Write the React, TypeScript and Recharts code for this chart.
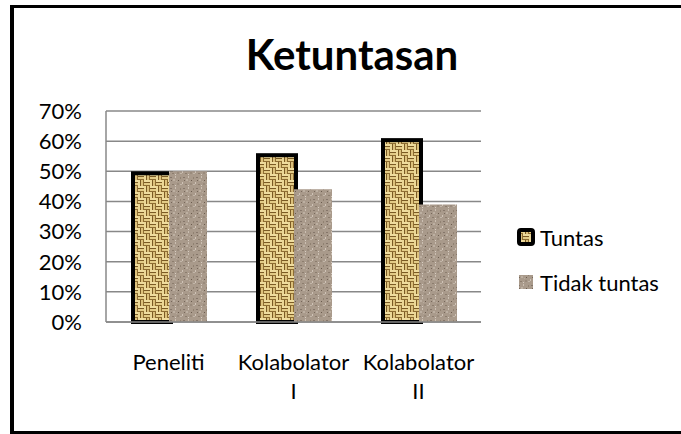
import React from "react";
import { BarChart, Bar, XAxis, YAxis, CartesianGrid } from "recharts";

const categories = ["Peneliti", "Kolabolator I", "Kolabolator II"];
const tuntas = [0.5, 0.56, 0.61];
const tidakTuntas = [0.5, 0.44, 0.39];
const yTicks = [0, 0.1, 0.2, 0.3, 0.4, 0.5, 0.6, 0.7];
const seriesNames = ["Tuntas", "Tidak tuntas"];
const title = "Ketuntasan";

const data = categories.map((c, i) => ({ name: c, tuntas: tuntas[i], tidak: tidakTuntas[i] }));

const FONT = "Lato, 'Open Sans', sans-serif";

const Patterns = () => (
  <defs>
    <pattern id="weave" width="12" height="12" patternUnits="userSpaceOnUse">
      <rect width="12" height="12" fill="#c9a965" />
      <rect x="0" y="0" width="6" height="2" fill="#efdc9e" />
      <rect x="0" y="2" width="6" height="1" fill="#7a5a24" />
      <rect x="0" y="3" width="6" height="2" fill="#e3cb86" />
      <rect x="0" y="5" width="6" height="1" fill="#8e6d32" />
      <rect x="6" y="6" width="6" height="2" fill="#efdc9e" />
      <rect x="6" y="8" width="6" height="1" fill="#7a5a24" />
      <rect x="6" y="9" width="6" height="2" fill="#e3cb86" />
      <rect x="6" y="11" width="6" height="1" fill="#8e6d32" />
      <rect x="6" y="0" width="2" height="6" fill="#ecd897" />
      <rect x="8" y="0" width="1" height="6" fill="#7a5a24" />
      <rect x="9" y="0" width="2" height="6" fill="#dcc17c" />
      <rect x="11" y="0" width="1" height="6" fill="#8e6d32" />
      <rect x="0" y="6" width="2" height="6" fill="#ecd897" />
      <rect x="2" y="6" width="1" height="6" fill="#7a5a24" />
      <rect x="3" y="6" width="2" height="6" fill="#dcc17c" />
      <rect x="5" y="6" width="1" height="6" fill="#8e6d32" />
    </pattern>
    <pattern id="granite" width="13" height="11" patternUnits="userSpaceOnUse">
      <rect width="13" height="11" fill="#a99a8b" />
      <rect x="1" y="1" width="2" height="1" fill="#85766a" />
      <rect x="6" y="0" width="1" height="2" fill="#cbbfb2" />
      <rect x="4" y="3" width="2" height="2" fill="#bdb0a2" />
      <rect x="9" y="4" width="1" height="1" fill="#6a5b4d" />
      <rect x="0" y="6" width="1" height="2" fill="#cfc3b7" />
      <rect x="3" y="8" width="2" height="1" fill="#8c7d6e" />
      <rect x="8" y="7" width="2" height="2" fill="#9a8b7c" />
      <rect x="2" y="4" width="1" height="1" fill="#76675a" />
      <rect x="6" y="9" width="1" height="1" fill="#d6ccc1" />
      <rect x="11" y="1" width="1" height="2" fill="#918272" />
      <rect x="11" y="8" width="2" height="1" fill="#c2b6a9" />
      <rect x="7" y="5" width="1" height="1" fill="#b8ab9d" />
    </pattern>
  </defs>
);

const TuntasShape = (props: any) => {
  const { x, y, width, height } = props;
  if (!height || height <= 0) return null;
  return (
    <rect
      x={x + 2}
      y={y + 2}
      width={width}
      height={height - 2}
      fill="url(#weave)"
      stroke="#000"
      strokeWidth={4}
    />
  );
};

const CategoryTick = (props: any) => {
  const { x, y, payload } = props;
  const words = String(payload.value).split(" ");
  const lines = words.length > 1 ? [words[0], words.slice(1).join(" ")] : [words[0]];
  return (
    <text x={x} y={y + 48} textAnchor="middle" fontFamily={FONT} fontSize={22} fill="#000">
      {lines.map((l, i) => (
        <tspan key={i} x={x} dy={i === 0 ? 0 : 29}>
          {l}
        </tspan>
      ))}
    </text>
  );
};

const LegendBox = () => (
  <div style={{ position: "absolute", left: 517, top: 222, fontFamily: FONT, fontSize: 22, color: "#000" }}>
    {seriesNames.map((n, i) => (
      <div key={n} style={{ display: "flex", alignItems: "center", height: 30, marginBottom: 15 }}>
        <svg width={18} height={18} style={{ marginRight: 5 }}>
          <Patterns />
          {i === 0 ? (
            <rect x={2} y={2} width={14} height={14} rx={2} fill="url(#weave)" stroke="#000" strokeWidth={4} />
          ) : (
            <rect x={2} y={2} width={14} height={14} fill="url(#granite)" />
          )}
        </svg>
        <span>{n}</span>
      </div>
    ))}
  </div>
);

export default function App() {
  return (
    <div style={{ position: "absolute", left: 0, top: 0, width: 681, height: 434, overflow: "hidden", background: "#fff" }}>
      <div
        style={{
          position: "absolute",
          left: 10,
          top: 5,
          width: 720,
          height: 423,
          borderLeft: "4px solid #000",
          borderTop: "3px solid #000",
          borderBottom: "3px solid #000",
        }}
      />
      <svg style={{ position: "absolute", left: 0, top: 0 }} width={681} height={100}>
        <text x={352} y={70} textAnchor="middle" fontFamily={FONT} fontWeight="bold" fontSize={42} fill="#000">
          {title}
        </text>
      </svg>
      <div style={{ position: "absolute", left: 0, top: 0 }}>
        <BarChart
          width={681}
          height={434}
          data={data}
          margin={{ top: 111, right: 200, bottom: 82, left: 0 }}
          barCategoryGap="20%"
          barGap={0}
        >
          <Patterns />
          <CartesianGrid vertical={false} stroke="#888" strokeWidth={1.5} />
          <XAxis
            dataKey="name"
            axisLine={{ stroke: "#888", strokeWidth: 1.5 }}
            tickLine={false}
            tickSize={0}
            tickMargin={0}
            height={30}
            interval={0}
            tick={<CategoryTick />}
          />
          <YAxis
            width={106}
            domain={[0, 0.7]}
            ticks={yTicks}
            interval={0}
            tickFormatter={(v: number) => `${Math.round(v * 100)}%`}
            axisLine={{ stroke: "#888", strokeWidth: 1.5 }}
            tickLine={false}
            tickSize={0}
            tickMargin={24}
            tick={{ fontFamily: FONT, fontSize: 22, fill: "#000" }}
          />
          <Bar dataKey="tuntas" name={seriesNames[0]} shape={<TuntasShape />} isAnimationActive={false} />
          <Bar dataKey="tidak" name={seriesNames[1]} fill="url(#granite)" isAnimationActive={false} />
        </BarChart>
      </div>
      <LegendBox />
    </div>
  );
}
